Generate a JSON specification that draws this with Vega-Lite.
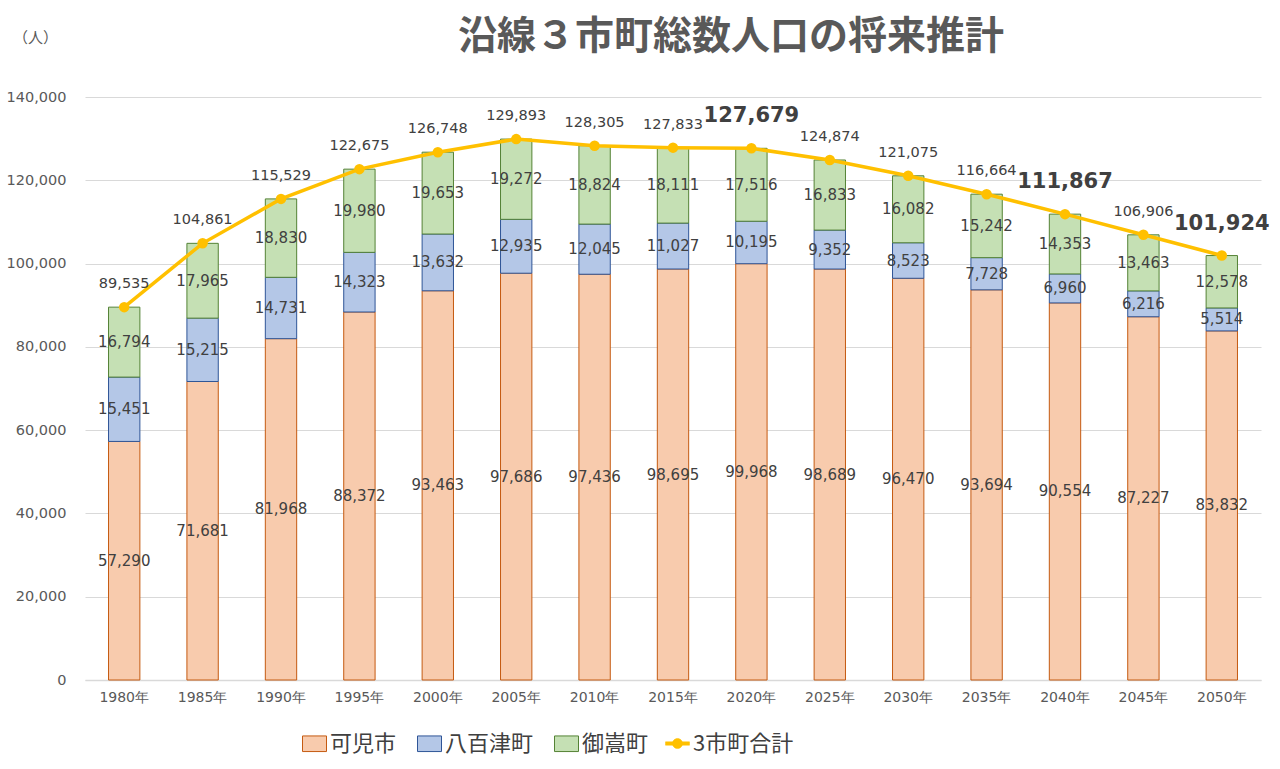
{
  "$schema": "https://vega.github.io/schema/vega-lite/v6.json",
  "width": 1176,
  "height": 583,
  "autosize": "none",
  "padding": {"left": 85, "top": 97, "right": 19, "bottom": 89},
  "background": "white",
  "config": {
    "view": {"stroke": null},
    "font": "Noto Sans CJK JP"
  },
  "title": {
    "text": "沿線３市町総数人口の将来推計",
    "anchor": "middle",
    "dx": 58,
    "offset": -27,
    "fontSize": 39,
    "fontWeight": "bold",
    "color": "#595959",
    "font": "Noto Sans CJK JP"
  },
  "datasets": {
    "parts": [
      {"year": "1980年", "series": "可児市", "rank": 1, "value": 57290},
      {"year": "1980年", "series": "八百津町", "rank": 2, "value": 15451},
      {"year": "1980年", "series": "御嵩町", "rank": 3, "value": 16794},
      {"year": "1985年", "series": "可児市", "rank": 1, "value": 71681},
      {"year": "1985年", "series": "八百津町", "rank": 2, "value": 15215},
      {"year": "1985年", "series": "御嵩町", "rank": 3, "value": 17965},
      {"year": "1990年", "series": "可児市", "rank": 1, "value": 81968},
      {"year": "1990年", "series": "八百津町", "rank": 2, "value": 14731},
      {"year": "1990年", "series": "御嵩町", "rank": 3, "value": 18830},
      {"year": "1995年", "series": "可児市", "rank": 1, "value": 88372},
      {"year": "1995年", "series": "八百津町", "rank": 2, "value": 14323},
      {"year": "1995年", "series": "御嵩町", "rank": 3, "value": 19980},
      {"year": "2000年", "series": "可児市", "rank": 1, "value": 93463},
      {"year": "2000年", "series": "八百津町", "rank": 2, "value": 13632},
      {"year": "2000年", "series": "御嵩町", "rank": 3, "value": 19653},
      {"year": "2005年", "series": "可児市", "rank": 1, "value": 97686},
      {"year": "2005年", "series": "八百津町", "rank": 2, "value": 12935},
      {"year": "2005年", "series": "御嵩町", "rank": 3, "value": 19272},
      {"year": "2010年", "series": "可児市", "rank": 1, "value": 97436},
      {"year": "2010年", "series": "八百津町", "rank": 2, "value": 12045},
      {"year": "2010年", "series": "御嵩町", "rank": 3, "value": 18824},
      {"year": "2015年", "series": "可児市", "rank": 1, "value": 98695},
      {"year": "2015年", "series": "八百津町", "rank": 2, "value": 11027},
      {"year": "2015年", "series": "御嵩町", "rank": 3, "value": 18111},
      {"year": "2020年", "series": "可児市", "rank": 1, "value": 99968},
      {"year": "2020年", "series": "八百津町", "rank": 2, "value": 10195},
      {"year": "2020年", "series": "御嵩町", "rank": 3, "value": 17516},
      {"year": "2025年", "series": "可児市", "rank": 1, "value": 98689},
      {"year": "2025年", "series": "八百津町", "rank": 2, "value": 9352},
      {"year": "2025年", "series": "御嵩町", "rank": 3, "value": 16833},
      {"year": "2030年", "series": "可児市", "rank": 1, "value": 96470},
      {"year": "2030年", "series": "八百津町", "rank": 2, "value": 8523},
      {"year": "2030年", "series": "御嵩町", "rank": 3, "value": 16082},
      {"year": "2035年", "series": "可児市", "rank": 1, "value": 93694},
      {"year": "2035年", "series": "八百津町", "rank": 2, "value": 7728},
      {"year": "2035年", "series": "御嵩町", "rank": 3, "value": 15242},
      {"year": "2040年", "series": "可児市", "rank": 1, "value": 90554},
      {"year": "2040年", "series": "八百津町", "rank": 2, "value": 6960},
      {"year": "2040年", "series": "御嵩町", "rank": 3, "value": 14353},
      {"year": "2045年", "series": "可児市", "rank": 1, "value": 87227},
      {"year": "2045年", "series": "八百津町", "rank": 2, "value": 6216},
      {"year": "2045年", "series": "御嵩町", "rank": 3, "value": 13463},
      {"year": "2050年", "series": "可児市", "rank": 1, "value": 83832},
      {"year": "2050年", "series": "八百津町", "rank": 2, "value": 5514},
      {"year": "2050年", "series": "御嵩町", "rank": 3, "value": 12578}
    ],
    "totals": [
      {"year": "1980年", "total": 89535},
      {"year": "1985年", "total": 104861},
      {"year": "1990年", "total": 115529},
      {"year": "1995年", "total": 122675},
      {"year": "2000年", "total": 126748},
      {"year": "2005年", "total": 129893},
      {"year": "2010年", "total": 128305},
      {"year": "2015年", "total": 127833},
      {"year": "2020年", "total": 127679},
      {"year": "2025年", "total": 124874},
      {"year": "2030年", "total": 121075},
      {"year": "2035年", "total": 116664},
      {"year": "2040年", "total": 111867},
      {"year": "2045年", "total": 106906},
      {"year": "2050年", "total": 101924}
    ]
  },
  "layer": [
    {
      "data": {"name": "parts"},
      "transform": [
        {"stack": "value", "groupby": ["year"], "sort": [{"field": "rank", "order": "ascending"}], "as": ["v0", "v1"]}
      ],
      "mark": {"type": "bar", "width": {"band": 0.4}, "strokeWidth": 1},
      "encoding": {
        "x": {
          "field": "year", "type": "nominal",
          "scale": {"paddingInner": 0, "paddingOuter": 0},
          "axis": {"title": null, "labelAngle": 0, "labelFontSize": 14, "labelColor": "#595959", "labelPadding": 10, "ticks": false, "domainColor": "#d9d9d9", "domainWidth": 1.5, "grid": false, "labelFont": "DejaVu Sans"}
        },
        "y": {
          "field": "v1", "type": "quantitative",
          "scale": {"domain": [0, 140000], "nice": false, "zero": true},
          "axis": {
            "title": "（人）", "titleAngle": 0, "titleAlign": "center", "titleBaseline": "middle",
            "titleX": -50, "titleY": -60, "titleFontSize": 15, "titleFontWeight": "normal", "titleColor": "#595959",
            "values": [0, 20000, 40000, 60000, 80000, 100000, 120000, 140000],
            "format": ",d", "labelFontSize": 14.5, "labelColor": "#595959", "labelPadding": 19, "labelFont": "DejaVu Sans",
            "ticks": false, "domain": false, "gridColor": "#d9d9d9", "gridWidth": 1
          }
        },
        "y2": {"field": "v0"},
        "fill": {
          "field": "series", "type": "nominal",
          "scale": {"domain": ["可児市", "八百津町", "御嵩町"], "range": ["#F8CBAD", "#B4C7E7", "#C5E0B4"]},
          "legend": {
            "title": null, "orient": "none", "direction": "horizontal", "legendX": 217, "legendY": 634,
            "symbolType": "M-1,-0.65L1,-0.65L1,0.65L-1,0.65Z", "symbolSize": 576, "symbolStrokeWidth": 1,
            "labelFontSize": 22, "labelColor": "#404040", "labelOffset": 3, "columnPadding": 18, "labelFont": "Noto Sans CJK JP"
          }
        },
        "stroke": {
          "field": "series", "type": "nominal",
          "scale": {"domain": ["可児市", "八百津町", "御嵩町"], "range": ["#C55A11", "#2F5597", "#548235"]},
          "legend": {
            "title": null, "orient": "none", "direction": "horizontal", "legendX": 217, "legendY": 634,
            "symbolType": "M-1,-0.65L1,-0.65L1,0.65L-1,0.65Z", "symbolSize": 576, "symbolStrokeWidth": 1,
            "labelFontSize": 22, "labelColor": "#404040", "labelOffset": 3, "columnPadding": 18, "labelFont": "Noto Sans CJK JP"
          }
        }
      }
    },
    {
      "data": {"name": "parts"},
      "transform": [
        {"stack": "value", "groupby": ["year"], "sort": [{"field": "rank", "order": "ascending"}], "as": ["v0", "v1"]},
        {"calculate": "(datum.v0 + datum.v1) / 2", "as": "mid"}
      ],
      "mark": {"type": "text", "fontSize": 15, "color": "#404040", "baseline": "middle", "align": "center", "font": "DejaVu Sans"},
      "encoding": {
        "x": {"field": "year", "type": "nominal"},
        "y": {"field": "mid", "type": "quantitative"},
        "text": {"field": "value", "type": "quantitative", "format": ",d"}
      }
    },
    {
      "data": {"name": "totals"},
      "mark": {"type": "line", "strokeWidth": 3.5, "point": {"filled": true, "size": 110, "color": "#FFC000"}},
      "encoding": {
        "x": {"field": "year", "type": "nominal"},
        "y": {"field": "total", "type": "quantitative"},
        "color": {
          "datum": "3市町合計",
          "scale": {"domain": ["3市町合計"], "range": ["#FFC000"]},
          "legend": {
            "title": null, "orient": "none", "direction": "horizontal", "legendX": 580, "legendY": 634,
            "symbolType": "M-1,-0.14L1,-0.14L1,0.14L-1,0.14Z M0.42,0A0.42,0.42,0,1,1,-0.42,0A0.42,0.42,0,1,1,0.42,0Z",
            "symbolSize": 576, "symbolFillColor": "#FFC000", "symbolStrokeColor": "#FFC000", "symbolStrokeWidth": 0.5,
            "labelFontSize": 22, "labelColor": "#404040", "labelOffset": 3, "labelFont": "Noto Sans CJK JP",
            "encode": {"symbols": {"update": {"fill": {"value": "#FFC000"}, "stroke": {"value": "#FFC000"}, "strokeWidth": {"value": 0.5}}}}
          }
        }
      }
    },
    {
      "data": {"name": "totals"},
      "transform": [{"filter": {"not": {"field": "year", "oneOf": ["2020年", "2040年", "2050年"]}}}],
      "mark": {"type": "text", "fontSize": 14.5, "color": "#404040", "baseline": "middle", "align": "center", "dy": -23, "font": "DejaVu Sans"},
      "encoding": {
        "x": {"field": "year", "type": "nominal"},
        "y": {"field": "total", "type": "quantitative"},
        "text": {"field": "total", "type": "quantitative", "format": ",d"}
      }
    },
    {
      "data": {"name": "totals"},
      "transform": [{"filter": {"field": "year", "oneOf": ["2020年", "2040年", "2050年"]}}],
      "mark": {"type": "text", "fontSize": 21, "fontWeight": "bold", "color": "#404040", "baseline": "middle", "align": "center", "dy": -32, "font": "DejaVu Sans"},
      "encoding": {
        "x": {"field": "year", "type": "nominal"},
        "y": {"field": "total", "type": "quantitative"},
        "text": {"field": "total", "type": "quantitative", "format": ",d"}
      }
    },
    {
      "mark": {"type": "rule", "color": "#E00000", "strokeWidth": 3.5},
      "encoding": {
        "x": {"datum": "2020年", "type": "nominal", "bandPosition": 1},
        "y": {"datum": 129700, "type": "quantitative"},
        "y2": {"datum": -6800}
      }
    }
  ]
}
